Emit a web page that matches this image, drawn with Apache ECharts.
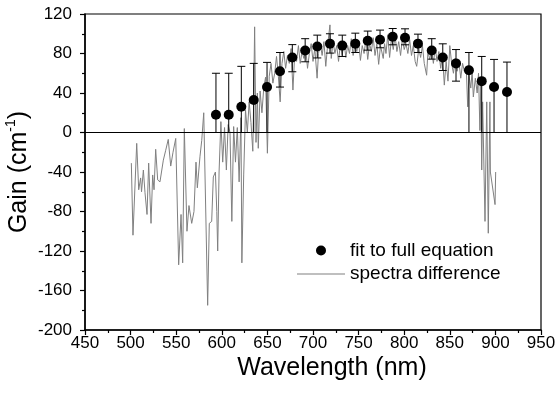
<!DOCTYPE html>
<html><head><meta charset="utf-8">
<script src="https://cdn.jsdelivr.net/npm/echarts@6/dist/echarts.min.js"></script>
<style>html,body{margin:0;padding:0;background:#fff}#c{width:559px;height:395px}</style>
</head><body><div id="c"></div>
<script>
// Fit to full equation (points with asymmetric error bars)
const fitWavelength = [593.6, 607.6, 621.4, 635, 649.6, 663.8, 677.3, 691.4, 704.7, 718.6, 732.1, 746.4, 760, 773.5, 787.4, 800.9, 815.1, 830.2, 842.3, 856.8, 871, 885, 898.5, 912.7];
const fitGain = [18, 18, 26, 33, 46, 62, 76, 83, 87, 90, 88, 90, 93, 94, 97, 96, 90, 83, 76, 70, 63, 52, 46, 41];
const errUpper = [60, 60, 67, 70, 71, 81, 89, 95, 98.6, 100, 98.6, 100.6, 102.7, 103.7, 105.3, 105, 99.6, 95, 89.8, 84, 81, 77, 74, 71.3];
const errLower = [0, 0, 0, 0, 0, 46, 61.5, 71.6, 75.5, 80.4, 77, 81, 83.4, 85.8, 88.8, 88.8, 81, 74.3, 62.8, 52, 0, 0, 0, 0];

// Spectra difference (gray trace)
const specWavelength = [500.8, 502.6, 506.7, 508.9, 511, 512, 514, 515.8, 518, 519.8, 522.4, 524.2, 525.7, 527.5, 529.7, 532.2, 535.9, 538.5, 541.3, 544, 546.5, 549.5, 552.7, 555.3, 557.1, 558.9, 561.8, 564, 567, 569.5, 571.7, 573.2, 576.1, 578, 580.2, 584.5, 586.3, 588.9, 590.7, 593, 594.5, 595.5, 597, 599, 601, 603, 605, 607, 609, 611, 613, 615, 617, 619, 621, 622, 624, 626, 628, 630, 632, 634, 635, 636, 637.5, 639, 640, 642, 644, 646, 648, 650, 652, 654, 656, 658, 660, 662, 664, 666, 668, 670, 672, 674, 676, 678, 680, 682, 684, 686, 688, 690, 692, 694, 696, 698, 700, 702, 704.5, 706, 708, 710, 712, 714, 716, 718.6, 720, 722, 724, 726, 728, 730, 732, 734, 736, 738, 740, 742, 744, 746, 748, 750, 752, 754, 756, 758, 760, 762, 764, 766, 768, 770, 772, 774, 777, 778.5, 780, 782, 784, 786, 788, 790, 792, 794, 796, 798, 800, 802, 804, 806, 808, 810, 812, 813.7, 816, 818, 820, 822, 824.6, 826, 828, 830, 832, 834, 836, 838, 840, 842, 844, 846, 848, 850, 852, 854, 856, 858, 860, 862, 864, 866, 868, 869.6, 871, 873, 874.5, 875.8, 878, 880, 881.5, 883, 884, 885, 886, 888.6, 890.5, 892.2, 894, 894.5, 899.6, 900.3];
const specGain = [-31, -104, -11, -58, -46, -60, -38, -61, -83, -31, -92, -43, -58, -17, -48, -50, -28, -18, -7, -34, -20, -6, -134, -83, -132, 4, -100, -74, -92, -80, -30, -56, -24, -8, 20, -175, -92, -90, -45, -40, -80, -120, -40, 11, -30, 5, -38, 8, 0, -90, 6, -30, 5, -50, 15, -132, -43, 23, 0, 31, 10, -19, 36, 107, -10, 40, -16, 42, 20, 45, 56, -21, 57, 70, 50, 60, 77, 57, 31, 70, 82, 65, 78, 70, 85, 43, 80, 72, 88, 70, 82, 75, 85, 65, 80, 90, 72, 85, 55, 80, 90, 78, 92, 67, 88, 109, 75, 92, 80, 88, 72, 90, 78, 92, 76, 88, 80, 95, 78, 90, 82, 92, 73, 88, 80, 94, 74, 90, 82, 96, 78, 90, 69, 88, 75, 90, 80, 99, 76, 95, 84, 98, 82, 92, 78, 95, 84, 90, 80, 94, 78, 88, 72, 67, 85, 76, 88, 70, 58, 82, 74, 84, 70, 86, 72, 82, 65, 78, 48, 72, 52, 88, 70, 60, 75, 62, 72, 55, 70, 62, 67, 26, 58, 45, 62, 36, 55, 40, 60, 2, 50, -38, 31, -90, 31, -102, 31, -40, -73, -40];

const FONT = '"Liberation Sans", Arial, Helvetica, sans-serif';
const chart = echarts.init(document.getElementById('c'), null, {renderer: 'canvas'});

const axisCommon = {
  axisLine: {show: true, onZero: false, lineStyle: {color: '#000', width: 1.5}},
  axisTick: {show: true, inside: false, length: 5, lineStyle: {color: '#000', width: 1.2}},
  minorTick: {show: true, splitNumber: 2, length: 3, lineStyle: {color: '#000', width: 1.2}},
  splitLine: {show: false},
  minorSplitLine: {show: false}
};

const option = {
  animation: false,
  backgroundColor: '#fff',
  grid: {left: 85, right: 18, top: 14, bottom: 65, show: true, borderColor: '#000', borderWidth: 1.2,
         containLabel: false, outerBoundsMode: 'none'},
  legend: [
    {data: [{name: 'fit to full equation', icon: 'circle'}], left: 316, top: 241, padding: 0,
     itemWidth: 48, itemHeight: 10, selectedMode: false,
     itemStyle: {color: '#000', opacity: 1, borderWidth: 0},
     textStyle: {fontFamily: FONT, fontSize: 19, color: '#000'}},
    {data: [{name: 'spectra difference', icon: 'rect'}], left: 297, top: 264.5, padding: 0,
     itemWidth: 48, itemHeight: 1, selectedMode: false,
     itemStyle: {color: '#808080', opacity: 1, borderWidth: 0},
     textStyle: {fontFamily: FONT, fontSize: 19, color: '#000'}}
  ],
  xAxis: Object.assign({
    type: 'value', min: 450, max: 950, interval: 50,
    name: 'Wavelength (nm)', nameLocation: 'middle', nameGap: 26, nameMoveOverlap: false,
    nameTextStyle: {fontFamily: FONT, fontSize: 25, color: '#000', padding: [0, 0, 0, 38]},
    axisLabel: {fontFamily: FONT, fontSize: 17, color: '#000', margin: 5}
  }, axisCommon),
  yAxis: Object.assign({
    type: 'value', min: -200, max: 120, interval: 40,
    name: '{t|Gain (cm}{s|-1}{t|)}', nameLocation: 'middle', nameGap: 53, nameRotate: 90, nameMoveOverlap: false,
    nameTextStyle: {
      color: '#000',
      rich: {
        t: {fontFamily: FONT, fontSize: 25, color: '#000', lineHeight: 28, verticalAlign: 'bottom'},
        s: {fontFamily: FONT, fontSize: 14, color: '#000', lineHeight: 28, verticalAlign: 'top', padding: [0, 0, 13, 0]}
      }
    },
    axisLabel: {fontFamily: FONT, fontSize: 17, color: '#000', margin: 13}
  }, axisCommon),
  series: [
    {
      name: 'spectra difference', type: 'line', z: 2,
      data: specWavelength.map((w, i) => [w, specGain[i]]),
      symbol: 'none', showSymbol: false,
      lineStyle: {color: '#808080', width: 1},
      itemStyle: {color: '#808080'}
    },
    {
      name: 'errorbars', type: 'custom', z: 3,
      data: fitWavelength.map((w, i) => [w, errLower[i], errUpper[i]]),
      encode: {x: 0, y: [1, 2]},
      renderItem: function (params, api) {
        const x = api.value(0), lo = api.value(1), hi = api.value(2);
        const pHi = api.coord([x, hi]);
        const pLo = api.coord([x, lo]);
        const w = 4;
        const st = {stroke: '#000', lineWidth: 1};
        const children = [
          {type: 'line', shape: {x1: pHi[0], y1: pHi[1], x2: pLo[0], y2: pLo[1]}, style: st},
          {type: 'line', shape: {x1: pHi[0] - w, y1: pHi[1], x2: pHi[0] + w, y2: pHi[1]}, style: st}
        ];
        if (lo > 0) {
          children.push({type: 'line', shape: {x1: pLo[0] - w, y1: pLo[1], x2: pLo[0] + w, y2: pLo[1]}, style: st});
        }
        return {type: 'group', children: children};
      }
    },
    {
      name: 'fit to full equation', type: 'scatter', z: 4,
      data: fitWavelength.map((w, i) => [w, fitGain[i]]),
      symbol: 'circle', symbolSize: 10,
      itemStyle: {color: '#000', opacity: 1},
      markLine: {
        silent: true, symbol: 'none', label: {show: false},
        lineStyle: {color: '#000', width: 1.2, type: 'solid'},
        data: [{yAxis: 0}]
      }
    }
  ]
};
chart.setOption(option);
</script>
</body></html>
